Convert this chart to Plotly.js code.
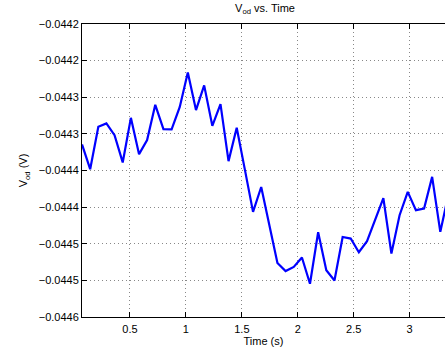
<!DOCTYPE html>
<html>
<head>
<meta charset="utf-8">
<script src="https://cdn.plot.ly/plotly-3.0.1.min.js"></script>
<style>
html,body{margin:0;padding:0;overflow:hidden;background:#fff;}
#chart{width:445px;height:351px;}
</style>
</head>
<body>
<div id="chart"></div>
<script>
const timeS = [0.071,0.144,0.217,0.289,0.362,0.435,0.508,0.581,0.653,0.726,
  0.799,0.872,0.945,1.017,1.090,1.163,1.236,1.309,1.381,1.454,
  1.527,1.600,1.673,1.745,1.818,1.891,1.964,2.037,2.109,2.182,
  2.255,2.328,2.401,2.473,2.546,2.619,2.692,2.765,2.837,2.910,
  2.983,3.056,3.129,3.201,3.274,3.347];
const vod = [-0.0443644,-0.0443982,-0.0443404,-0.0443357,-0.0443517,-0.0443890,-0.0443281,-0.0443777,-0.0443585,-0.0443103,
  -0.0443435,-0.0443439,-0.0443132,-0.0442663,-0.0443175,-0.0442838,-0.0443390,-0.0443093,-0.0443872,-0.0443417,
  -0.0443988,-0.0444565,-0.0444225,-0.0444743,-0.0445262,-0.0445373,-0.0445317,-0.0445188,-0.0445546,-0.0444843,
  -0.0445362,-0.0445501,-0.0444907,-0.0444929,-0.0445116,-0.0444966,-0.0444672,-0.0444377,-0.0445134,-0.0444610,
  -0.0444292,-0.0444542,-0.0444519,-0.0444087,-0.0444838,-0.0444323];
const yTickVals = [-0.04420,-0.04425,-0.04430,-0.04435,-0.04440,-0.04445,-0.04450,-0.04455,-0.04460];
const yTickText = ['\u22120.0442','\u22120.0442','\u22120.0443','\u22120.0443','\u22120.0444','\u22120.0444','\u22120.0445','\u22120.0445','\u22120.0446'];
const xTickVals = [0.5,1,1.5,2,2.5,3];
const xTickText = ['0.5','1','1.5','2','2.5','3'];

const font = {family:'Liberation Sans, Arial, sans-serif', size:11, color:'#000'};
const trace = {x:timeS, y:vod, type:'scatter', mode:'lines',
  line:{color:'#0000ff', width:2.2}, hoverinfo:'none'};
const layout = {
  width:445, height:351,
  margin:{l:82, r:0, t:24, b:34.3, pad:0},
  paper_bgcolor:'#fff', plot_bgcolor:'#fff',
  font:font,
  showlegend:false,
  title:{text:'V<sub>od</sub> vs. Time', font:{family:font.family, size:11, color:'#000'},
    x:(265-82)/363, xref:'paper', xanchor:'center', y:0.977, yref:'container', yanchor:'middle'},
  xaxis:{range:[0.071, 3.316], tickvals:xTickVals, ticktext:xTickText,
    showline:true, linecolor:'#000', linewidth:1, mirror:'ticks',
    ticks:'inside', ticklen:5, tickcolor:'#000',
    showgrid:true, gridcolor:'#888', griddash:'1px,3px', gridwidth:1,
    zeroline:false, automargin:false, ticklabelstandoff:2,
    title:{text:'Time (s)', font:font, standoff:2}},
  yaxis:{range:[-0.04460, -0.04420], tickvals:yTickVals, ticktext:yTickText,
    showline:true, linecolor:'#000', linewidth:1, mirror:false,
    ticks:'inside', ticklen:5, tickcolor:'#000',
    showgrid:true, gridcolor:'#888', griddash:'1px,3px', gridwidth:1,
    zeroline:false, automargin:false,
    title:{text:'V<sub>od</sub> (V)', font:font, standoff:8}}
};
Plotly.newPlot('chart',[trace],layout,{staticPlot:true, displayModeBar:false});
</script>
</body>
</html>
